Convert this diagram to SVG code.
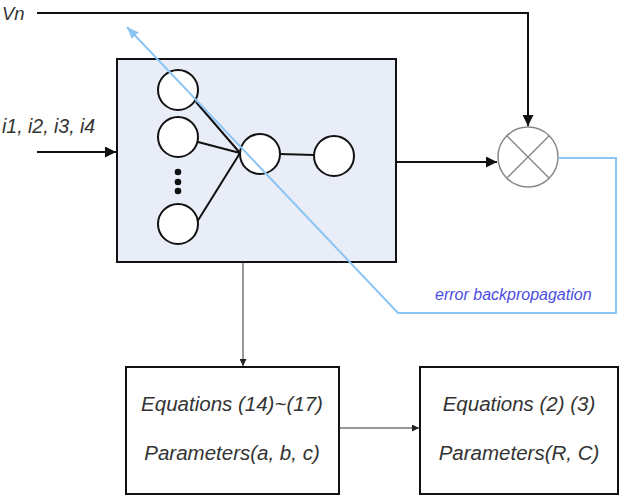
<svg xmlns="http://www.w3.org/2000/svg" width="623" height="496" viewBox="0 0 623 496">
<defs>
<style>
.lbl{font-family:"Liberation Sans",Arial,sans-serif;font-style:italic;fill:#333;}
.neu{fill:#fff;stroke:#111;stroke-width:2;}
.thick{stroke:#111;stroke-width:2;fill:none;}
.thin{stroke:#333;stroke-width:1;fill:none;}
.box{fill:#fff;stroke:#111;stroke-width:2;}
</style>
<marker id="ahb" viewBox="0 0 10 10" refX="10" refY="5" markerWidth="11" markerHeight="11" orient="auto" markerUnits="userSpaceOnUse"><path d="M0,0 L10,5 L0,10 z" fill="#111"/></marker>
<marker id="ahs" viewBox="0 0 10 10" refX="10" refY="5" markerWidth="7" markerHeight="7" orient="auto" markerUnits="userSpaceOnUse"><path d="M0,0 L10,5 L0,10 z" fill="#222"/></marker>
<marker id="ahblue" viewBox="0 0 10 10" refX="10" refY="5" markerWidth="12" markerHeight="12" orient="auto" markerUnits="userSpaceOnUse"><path d="M0,1 L10,5 L0,9 z" fill="#8cc4f4"/></marker>
</defs>
<rect width="623" height="496" fill="#fff"/>

<g id="nn-block">
<rect x="117" y="59" width="279" height="203" fill="#e8edf7" stroke="#111" stroke-width="2"/>
<line class="thick" x1="196" y1="102" x2="240" y2="153"/>
<line class="thick" x1="198" y1="142" x2="240" y2="153"/>
<line class="thick" x1="197" y1="222" x2="240" y2="153"/>
<line class="thick" x1="280" y1="154" x2="314" y2="155"/>
<circle class="neu" cx="178" cy="90" r="20"/>
<circle class="neu" cx="178" cy="137" r="20"/>
<circle class="neu" cx="178" cy="224" r="20"/>
<circle cx="178" cy="172" r="3.3" fill="#111"/>
<circle cx="178" cy="182" r="3.3" fill="#111"/>
<circle cx="178" cy="191" r="3.3" fill="#111"/>
<circle class="neu" cx="260" cy="154" r="20"/>
<circle class="neu" cx="334" cy="156" r="20"/>
</g>

<g id="multiplier">
<circle cx="528" cy="157" r="30" fill="#fff" stroke="#888" stroke-width="1.5"/>
<line x1="507" y1="136" x2="549" y2="178" stroke="#888" stroke-width="1.5"/>
<line x1="549" y1="136" x2="507" y2="178" stroke="#888" stroke-width="1.5"/>
</g>

<g id="box-equations-14-17">
<rect class="box" x="126" y="367" width="213" height="127"/>
<text class="lbl" x="232" y="411" font-size="20.5" text-anchor="middle">Equations (14)~(17)</text>
<text class="lbl" x="232" y="460" font-size="20.5" text-anchor="middle">Parameters(a, b, c)</text>
</g>

<g id="box-equations-2-3">
<rect class="box" x="420" y="367" width="198" height="127"/>
<text class="lbl" x="519" y="411" font-size="20.5" text-anchor="middle">Equations (2) (3)</text>
<text class="lbl" x="519" y="460" font-size="20.5" text-anchor="middle">Parameters(R, C)</text>
</g>

<g id="labels">
<text class="lbl" x="2" y="20" font-size="18.5">Vn</text>
<text class="lbl" x="2" y="133" font-size="19.5">i1, i2, i3, i4</text>
<text x="435" y="300" font-size="16" font-family="Liberation Sans,Arial,sans-serif" font-style="italic" fill="#4a4ee0">error backpropagation</text>
</g>

<g id="connectors">
<path class="thick" d="M37,13 H528 V126" marker-end="url(#ahb)"/>
<line class="thick" x1="37" y1="152" x2="116" y2="152" marker-end="url(#ahb)"/>
<line class="thick" x1="396" y1="162" x2="497" y2="162" marker-end="url(#ahb)"/>
<line class="thin" x1="243" y1="262" x2="243" y2="366" marker-end="url(#ahs)"/>
<line class="thin" x1="339" y1="428" x2="419" y2="428" marker-end="url(#ahs)"/>
<path d="M558,158 H616 V313 H398 L127,27" fill="none" stroke="#8cc4f4" stroke-width="2" marker-end="url(#ahblue)"/>
</g>
</svg>
